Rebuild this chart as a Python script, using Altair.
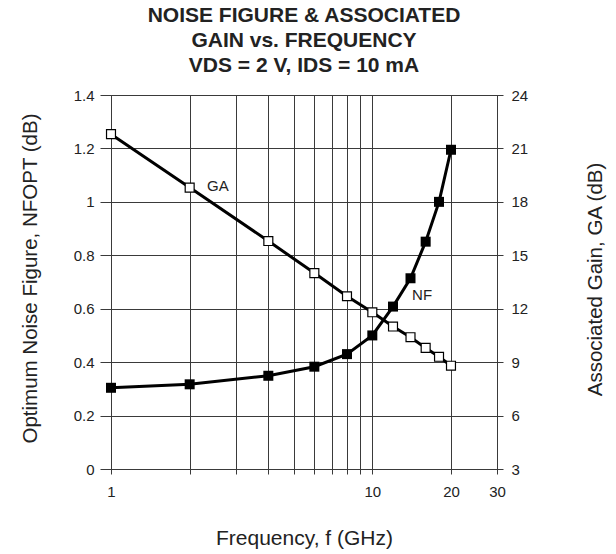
import altair as alt
import pandas as pd

# Data
freq = [1, 2, 4, 6, 8, 10, 12, 14, 16, 18, 20]
nf_opt = [0.304, 0.317, 0.349, 0.383, 0.43, 0.50, 0.608, 0.714, 0.851, 1.0, 1.195]
gain_a = [21.8, 18.8, 15.8, 14.0, 12.7, 11.8, 11.0, 10.4, 9.8, 9.3, 8.8]

x_grid_values = [1, 2, 3, 4, 5, 6, 7, 8, 9, 10, 20, 30]
x_label_values = [1, 10, 20, 30]
nf_ticks = [0, 0.2, 0.4, 0.6, 0.8, 1, 1.2, 1.4]
ga_ticks = [3, 6, 9, 12, 15, 18, 21, 24]

# Annotation labels (data coordinates)
ga_label = {"freq": [2.33], "ga": [18.9], "text": ["GA"]}
nf_label = {"freq": [14.2], "nf": [0.652], "text": ["NF"]}

df = pd.DataFrame({"freq": freq, "nf": nf_opt, "ga": gain_a})

FONT = "Liberation Sans"
GRID = "#3a3a3a"
TXT = "#222222"

x_scale = alt.Scale(type="log", domain=[1, 30])
nf_scale = alt.Scale(domain=[0, 1.4])
ga_scale = alt.Scale(domain=[3, 24])

label_expr = "indexof(" + str(x_label_values) + ", datum.value) >= 0 ? format(datum.value, 'd') : ''"

x_axis = alt.Axis(
    values=x_grid_values, labelExpr=label_expr, grid=True, gridColor=GRID,
    gridWidth=1, gridOpacity=1, tickColor=GRID, tickSize=5, domainColor=GRID,
    labelFont=FONT, labelFontSize=15, labelColor=TXT, labelPadding=10,
    labelOverlap=False, labelFlush=False,
    title="Frequency, f (GHz)", titleFont=FONT, titleFontSize=21,
    titleFontWeight="normal", titleColor=TXT, titleY=58,
)

nf_axis = alt.Axis(
    orient="left", values=nf_ticks, format="~g", grid=True, gridColor=GRID,
    gridWidth=1, gridOpacity=1, tickColor=GRID, tickSize=11, domainColor=GRID,
    labelFont=FONT, labelFontSize=15, labelColor=TXT, labelPadding=6,
    title="Optimum Noise Figure, NFOPT (dB)", titleFont=FONT, titleFontSize=20.5,
    titleFontWeight="normal", titleColor=TXT, titleAngle=-90,
    titleX=-81, titleY=183, titleAlign="center", titleBaseline="middle",
)

ga_axis = alt.Axis(
    orient="right", values=ga_ticks, grid=False, tickColor=GRID, tickSize=6,
    domainColor=GRID, labelFont=FONT, labelFontSize=15, labelColor=TXT,
    labelPadding=8,
    title="Associated Gain, GA (dB)", titleFont=FONT, titleFontSize=20.5,
    titleFontWeight="normal", titleColor=TXT, titleAngle=-90,
    titleX=98, titleY=184, titleAlign="center", titleBaseline="middle",
)

base = alt.Chart(df)

nf_line = base.mark_line(color="black", strokeWidth=3).encode(
    x=alt.X("freq:Q", scale=x_scale, axis=x_axis),
    y=alt.Y("nf:Q", scale=nf_scale, axis=nf_axis),
)
nf_pts = base.mark_point(shape="square", filled=True, color="black", size=100, opacity=1).encode(
    x=alt.X("freq:Q", scale=x_scale),
    y=alt.Y("nf:Q", scale=nf_scale),
)
nf_text = alt.Chart(pd.DataFrame(nf_label)).mark_text(
    font=FONT, fontSize=15, color=TXT, align="left", baseline="middle"
).encode(
    x=alt.X("freq:Q", scale=x_scale),
    y=alt.Y("nf:Q", scale=nf_scale),
    text="text:N",
)

ga_line = base.mark_line(color="black", strokeWidth=3).encode(
    x=alt.X("freq:Q", scale=x_scale),
    y=alt.Y("ga:Q", scale=ga_scale, axis=ga_axis),
)
ga_pts = base.mark_point(shape="square", filled=True, fill="white", stroke="black",
                         strokeWidth=1.2, size=80, opacity=1).encode(
    x=alt.X("freq:Q", scale=x_scale),
    y=alt.Y("ga:Q", scale=ga_scale),
)
ga_text = alt.Chart(pd.DataFrame(ga_label)).mark_text(
    font=FONT, fontSize=15, color=TXT, align="left", baseline="middle"
).encode(
    x=alt.X("freq:Q", scale=x_scale),
    y=alt.Y("ga:Q", scale=ga_scale),
    text="text:N",
)

left = alt.layer(nf_line, nf_pts, nf_text)
right = alt.layer(ga_line, ga_pts, ga_text)

chart = alt.layer(left, right).resolve_scale(y="independent").properties(
    width=386,
    height=374,
    autosize=alt.AutoSizeParams(type="none"),
    padding={"left": 111, "top": 95, "right": 119, "bottom": 85},
    title=alt.TitleParams(
        text=["NOISE FIGURE & ASSOCIATED", "GAIN vs. FREQUENCY", "VDS = 2 V, IDS = 10 mA"],
        font=FONT, fontSize=21, fontWeight="bold", color=TXT, lineHeight=25,
        anchor="middle", offset=12,
    ),
).configure_view(stroke=GRID, strokeWidth=1)

chart.save("out.html", embed_options={"renderer": "svg", "actions": False})
